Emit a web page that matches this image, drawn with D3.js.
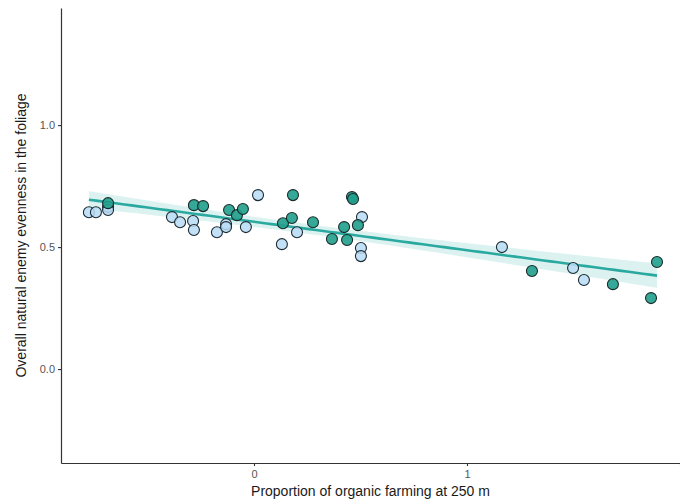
<!DOCTYPE html>
<html><head><meta charset="utf-8">
<script src="https://cdn.jsdelivr.net/npm/d3@7"></script>
<style>body{margin:0;background:#fff;} svg{display:block;}</style>
</head><body>
<svg id="c" width="680" height="502"></svg>
<script>
// Light-blue group points [x, y]
const groupAX = [-0.775,-0.742,-0.685,-0.685,-0.385,-0.347,-0.286,-0.282,-0.174,-0.131,-0.131,-0.038,0.019,0.131,0.202,0.507,0.502,0.502,1.164,1.498,1.549];
const groupAY = [0.643,0.643,0.664,0.652,0.623,0.602,0.607,0.570,0.561,0.594,0.582,0.582,0.713,0.512,0.561,0.623,0.496,0.463,0.500,0.414,0.365];
// Teal group points
const groupBX = [-0.685,-0.282,-0.239,-0.117,-0.080,-0.052,0.136,0.183,0.178,0.277,0.366,0.423,0.437,0.460,0.465,0.488,1.305,1.685,1.892,1.864];
const groupBY = [0.680,0.672,0.668,0.652,0.631,0.656,0.598,0.713,0.619,0.602,0.533,0.582,0.529,0.705,0.697,0.590,0.402,0.348,0.439,0.291];
const xTicks = [0, 1, 2];
const xTickLabels = ["0", "1", ""];
const yTicks = [0.0, 0.5, 1.0];
const xTitle = "Proportion of organic farming at 250 m";
const yTitle = "Overall natural enemy evenness in the foliage";

const svg = d3.select("#c");
const L = 61, R = 680, T = 8, B = 463;
const x = d3.scaleLinear().domain([-0.906, 2.0]).range([L, R]);
const y = d3.scaleLinear().domain([-0.385, 1.48]).range([B, T]);

// regression (lm) with 95% CI
const allX = groupAX.concat(groupBX), allY = groupAY.concat(groupBY);
const n = allX.length;
const mx = d3.mean(allX), my = d3.mean(allY);
let sxx = 0, sxy = 0;
for (let i = 0; i < n; i++) { sxx += (allX[i]-mx)**2; sxy += (allX[i]-mx)*(allY[i]-my); }
const b = sxy / sxx, a = my - b * mx;
let sse = 0;
for (let i = 0; i < n; i++) sse += (allY[i] - a - b*allX[i])**2;
const s = Math.sqrt(sse / (n - 2));
const tq = 2.026;
const x0 = d3.min(allX), x1 = d3.max(allX);
const grid = d3.range(0, 81).map(i => x0 + (x1 - x0) * i / 80);
const band = grid.map(g => {
  const se = s * Math.sqrt(1/n + (g-mx)**2/sxx);
  const f = a + b*g;
  return {g, f, lo: f - tq*se, hi: f + tq*se};
});

svg.append("path").datum(band)
  .attr("d", d3.area().x(d => x(d.g)).y0(d => y(d.lo)).y1(d => y(d.hi)))
  .attr("fill", "#7fd0c8").attr("fill-opacity", 0.28);
svg.append("path").datum(band)
  .attr("d", d3.line().x(d => x(d.g)).y(d => y(d.f)))
  .attr("fill", "none").attr("stroke", "#2aa9a0").attr("stroke-width", 2.6);

const ptsA = groupAX.map((v, i) => [v, groupAY[i]]);
const ptsB = groupBX.map((v, i) => [v, groupBY[i]]);
svg.append("g").selectAll("circle").data(ptsA).join("circle")
  .attr("cx", d => x(d[0])).attr("cy", d => y(d[1])).attr("r", 5.5)
  .attr("fill", "#b8dcf4").attr("fill-opacity", 0.85)
  .attr("stroke", "#1c2a33").attr("stroke-width", 1.1);
svg.append("g").selectAll("circle").data(ptsB).join("circle")
  .attr("cx", d => x(d[0])).attr("cy", d => y(d[1])).attr("r", 5.5)
  .attr("fill", "#1f9e8c").attr("fill-opacity", 0.9)
  .attr("stroke", "#1a2a2a").attr("stroke-width", 1.1);

// axes
const xa = svg.append("g").attr("transform", `translate(0,${B})`)
  .call(d3.axisBottom(x).tickValues(xTicks).tickFormat((d, i) => xTickLabels[i]).tickSize(3).tickSizeOuter(0).tickPadding(4));
const ya = svg.append("g").attr("transform", `translate(${L},0)`)
  .call(d3.axisLeft(y).tickValues(yTicks).tickFormat(d3.format(".1f")).tickSize(3).tickSizeOuter(0).tickPadding(3));
[xa, ya].forEach(g => {
  g.select(".domain").attr("stroke", "#333").attr("stroke-width", 1.2);
  g.selectAll(".tick line").attr("stroke", "#333").attr("stroke-width", 1.1);
  g.selectAll("text").attr("fill", "#555").style("font-family", "Liberation Sans, Arial, sans-serif").style("font-size", "11px");
});

svg.append("text").attr("x", (L + R) / 2).attr("y", 496).attr("text-anchor", "middle")
  .style("font-family", "Liberation Sans, Arial, sans-serif").style("font-size", "14px").attr("fill", "#1a1a1a")
  .text(xTitle);
svg.append("text").attr("transform", `translate(26,${(T + B) / 2}) rotate(-90)`).attr("text-anchor", "middle")
  .style("font-family", "Liberation Sans, Arial, sans-serif").style("font-size", "14px").attr("fill", "#1a1a1a")
  .text(yTitle);
</script>
</body></html>
